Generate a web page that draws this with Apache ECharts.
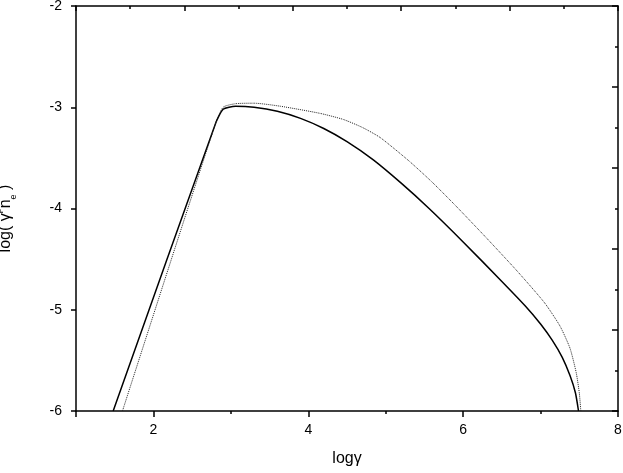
<!DOCTYPE html>
<html>
<head>
<meta charset="utf-8">
<script src="https://cdn.jsdelivr.net/npm/echarts@6/dist/echarts.min.js"></script>
<style>
  html, body { margin: 0; padding: 0; background: #fff; }
  #chart { width: 623px; height: 473px; }
</style>
</head>
<body>
<div id="chart"></div>
<script>
// solid curve (log gamma, log(gamma^p n_e))
const solidX = [1.48, 2.80, 2.90, 3.06, 3.30, 3.60, 3.90, 4.20, 4.50, 4.84, 5.20, 5.56, 6.00, 6.50, 6.80, 7.00, 7.15, 7.28, 7.38, 7.45, 7.49]
const solidY = [-6.00, -3.165, -3.02, -2.99, -3.00, -3.04, -3.11, -3.21, -3.34, -3.52, -3.75, -4.00, -4.33, -4.72, -4.96, -5.14, -5.30, -5.47, -5.65, -5.82, -6.00]
// dotted curve
const dotX = [1.60, 2.80, 2.90, 3.06, 3.30, 3.64, 4.15, 4.45, 4.70, 4.93, 5.30, 5.60, 5.90, 6.30, 6.70, 7.05, 7.25, 7.38, 7.46, 7.50, 7.52]
const dotY = [-6.00, -3.165, -3.00, -2.965, -2.96, -2.99, -3.06, -3.12, -3.20, -3.30, -3.53, -3.74, -3.97, -4.29, -4.62, -4.93, -5.16, -5.38, -5.62, -5.82, -6.00]

const xLabels = [2, 4, 6, 8]
const xMajorTicks = [1, 2, 4, 6, 8]
const xMinorTicks = [3, 5, 7]

function pairs (xs, ys) {
  let out = []
  for (let i = 0; i < xs.length; i++) {
    out.push([xs[i], ys[i]])
  }
  return out
}

const black = '#000'
const font = 'Liberation Sans, Arial, sans-serif'

let chart = echarts.init(document.getElementById('chart'))
let option = {
  animation: false,
  grid: { left: 76, right: 5, top: 6, bottom: 62, containLabel: false, outerBoundsMode: 'none' },
  xAxis: [
    {
      type: 'value', position: 'bottom', min: 1, max: 8,
      axisLine: { lineStyle: { color: black, width: 1.5 } },
      axisTick: { customValues: xMajorTicks, length: 6, lineStyle: { color: black, width: 1.5 } },
      axisLabel: { customValues: xLabels, color: black, fontSize: 14, fontFamily: font, margin: 12 },
      splitLine: { show: false },
      name: 'logγ', nameLocation: 'middle', nameGap: 40,
      nameTextStyle: { color: black, fontSize: 16, fontFamily: font }
    },
    {
      type: 'value', position: 'bottom', min: 1, max: 8,
      axisLine: { show: false },
      axisTick: { customValues: xMinorTicks, length: 3, lineStyle: { color: black, width: 1.5 } },
      axisLabel: { show: false },
      splitLine: { show: false }
    },
    {
      type: 'value', position: 'top', min: 0, max: 5, interval: 1,
      axisLine: { lineStyle: { color: black, width: 1.5 } },
      axisTick: { inside: true, length: 5, lineStyle: { color: black, width: 1.5 } },
      minorTick: { show: true, splitNumber: 2, length: 3, lineStyle: { color: black, width: 1.5 } },
      axisLabel: { show: false },
      splitLine: { show: false }
    }
  ],
  yAxis: [
    {
      type: 'value', position: 'left', min: -6, max: -2, interval: 1,
      axisLine: { lineStyle: { color: black, width: 1.5 } },
      axisTick: { length: 5, lineStyle: { color: black, width: 1.5 } },
      axisLabel: { color: black, fontSize: 14, fontFamily: font, margin: 14 },
      splitLine: { show: false },
      name: 'log( γ{sup|p}n{sub|e} )', nameLocation: 'middle', nameRotate: 90, nameGap: 58,
      nameTextStyle: {
        color: black, fontSize: 16, fontFamily: font, lineHeight: 24, padding: [0, 20, 0, 0],
        rich: {
          sup: { fontSize: 9, fontFamily: font, color: black, verticalAlign: 'top', lineHeight: 10 },
          sub: { fontSize: 9, fontFamily: font, color: black, verticalAlign: 'bottom', lineHeight: 10 }
        }
      }
    },
    {
      type: 'value', position: 'right', min: 0, max: 5, interval: 1,
      axisLine: { lineStyle: { color: black, width: 1.5 } },
      axisTick: { inside: true, length: 6, lineStyle: { color: black, width: 1.5 } },
      minorTick: { show: true, splitNumber: 2, length: 3, lineStyle: { color: black, width: 1.5 } },
      axisLabel: { show: false },
      splitLine: { show: false }
    }
  ],
  series: [
    {
      type: 'line', xAxisIndex: 0, yAxisIndex: 0,
      data: pairs(solidX, solidY),
      showSymbol: false, smooth: 0.2,
      lineStyle: { color: black, width: 1.5 }
    },
    {
      type: 'line', xAxisIndex: 0, yAxisIndex: 0,
      data: pairs(dotX, dotY),
      showSymbol: false, smooth: 0.2,
      lineStyle: { color: '#222', width: 1, type: 'dotted' }
    }
  ]
}
chart.setOption(option)
</script>
</body>
</html>
